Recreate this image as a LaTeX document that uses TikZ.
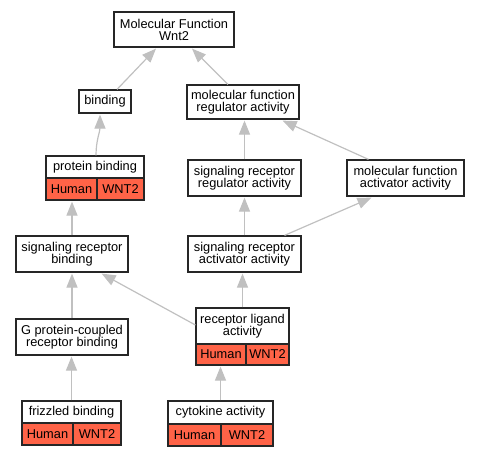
\documentclass[tikz,border=0pt]{standalone}
\usepackage{fontspec}
\setmainfont{Liberation Sans}
\usetikzlibrary{arrows.meta,calc}
\definecolor{tomatoc}{HTML}{FF6347}
\definecolor{edgec}{HTML}{C0C0C0}
\definecolor{borderc}{HTML}{262626}
\tikzset{
  box/.style={draw=borderc, line width=1.2pt, fill=white, inner sep=0pt, align=center,
    font=\fontsize{12.8}{12}\selectfont},
  cell/.style={box, fill=tomatoc},
  edge/.style={draw=edgec, line width=1.2pt, -{Triangle[length=14pt,width=11pt]}},
}
\begin{document}
\begin{tikzpicture}[x=1pt,y=-1pt]
\useasboundingbox (0,0) rectangle (479,456);
% nodes
\node[box, minimum width=120pt, minimum height=35pt] (mf) at (174,29.5) {Molecular Function\\Wnt2};
\node[box, minimum width=52pt, minimum height=23pt] (bind) at (105,101.5) {binding};
\node[box, minimum width=112pt, minimum height=34pt] (mfra) at (243,102) {molecular function\\regulator activity};
\node[box, minimum width=98pt, minimum height=22pt] (pb) at (95,167) {protein binding};
\node[cell, minimum width=51pt, minimum height=22pt] (pbh) at (71.5,189) {Human};
\node[cell, minimum width=47pt, minimum height=22pt] (pbw) at (120.5,189) {WNT2};
\node[box, minimum width=113pt, minimum height=36pt] (srra) at (244.5,178) {signaling receptor\\regulator activity};
\node[box, minimum width=117pt, minimum height=36pt] (mfaa) at (405.5,178) {molecular function\\activator activity};
\node[box, minimum width=112pt, minimum height=36pt] (srb) at (72,254) {signaling receptor\\binding};
\node[box, minimum width=113pt, minimum height=36pt] (sraa) at (244.5,254) {signaling receptor\\activator activity};
\node[box, minimum width=112pt, minimum height=36pt] (gpcr) at (72,337) {G protein-coupled\\receptor binding};
\node[box, minimum width=93pt, minimum height=36pt] (rla) at (242.5,326) {receptor ligand\\activity};
\node[cell, minimum width=50pt, minimum height=21pt] (rlah) at (221,354.5) {Human};
\node[cell, minimum width=43pt, minimum height=21pt] (rlaw) at (267.5,354.5) {WNT2};
\node[box, minimum width=99pt, minimum height=22pt] (fz) at (71.5,412) {frizzled binding};
\node[cell, minimum width=51pt, minimum height=22pt] (fzh) at (47.5,434) {Human};
\node[cell, minimum width=48pt, minimum height=22pt] (fzw) at (97,434) {WNT2};
\node[box, minimum width=105pt, minimum height=23pt] (cy) at (220.5,412.5) {cytokine activity};
\node[cell, minimum width=53pt, minimum height=22pt] (cyh) at (194.5,435) {Human};
\node[cell, minimum width=52pt, minimum height=22pt] (cyw) at (247,435) {WNT2};
% edges
\draw[edge] ($(bind.north)+(12,0)$) -- ($(mf.south)+(-18,1)$);
\draw[edge] ($(mfra.north)+(-15,0)$) -- ($(mf.south)+(18,1)$);
\draw[edge] ($(pb.north)+(1,0)$) .. controls ($(pb.north)+(1,-15)$) and ($(bind.south)+(-5,18)$) .. ($(bind.south)+(-5,1)$);
\draw[edge] (srra.north) -- ($(srra.north |- mfra.south)+(0,1)$);
\draw[edge] ($(mfaa.north)+(-37,0)$) -- ($(mfra.south east)+(-17,1)$);
\draw[edge] (srb.north) -- ($(srb.north |- pbh.south)+(0,1)$);
\draw[edge] (sraa.north) -- ($(sraa.north |- srra.south)+(0,1)$);
\draw[edge] ($(sraa.north)+(40,0)$) -- ($(mfaa.south)+(-34,1)$);
\draw[edge] (gpcr.north) -- ($(gpcr.north |- srb.south)+(0,1)$);
\draw[edge] ($(rla.west)+(0,-1)$) -- ($(srb.south east)+(-27,1)$);
\draw[edge] (rla.north) -- ($(rla.north |- sraa.south)+(0,1)$);
\draw[edge] (fz.north) -- ($(fz.north |- gpcr.south)+(0,1)$);
\draw[edge] (cy.north) -- ($(cy.north |- rlah.south)+(0,1)$);
\end{tikzpicture}
\end{document}
